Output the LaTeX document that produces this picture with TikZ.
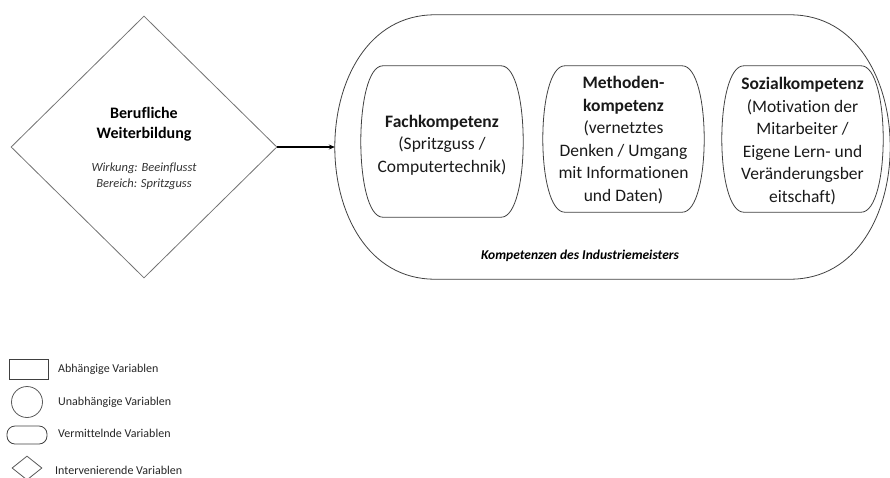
\documentclass[tikz,border=0pt]{standalone}
\usepackage{fontspec}
\setmainfont{Carlito}[Ligatures=NoCommon]
\usetikzlibrary{shapes.geometric,arrows.meta,calc}

\tikzset{
  frame/.style={draw=none, inner sep=0pt, minimum width=#1},
  outline/.style={draw=black!75, line width=0.8pt},
  dia/.style={diamond, draw=black!55, line width=0.8pt, inner sep=0pt, aspect=1},
  boxtext/.style={align=center, font=\fontsize{17.5}{22.5}\selectfont, text=black!90, inner sep=0pt},
  legtext/.style={anchor=west, font=\fontsize{12}{13}\selectfont, text=black!85, inner sep=0pt},
  flow/.style={line width=1.4pt, -{Stealth[length=6pt,width=5pt]}},
  % bulged outline around a frame node: #1 = straight part inset
  bulge/.style args={#1 on #2}{insert path={
    ([xshift=#1]#2.north west) -- ([xshift=-#1]#2.north east)
    .. controls ([xshift=#1/3]#2.north east) and ([xshift=#1/3]#2.south east) ..
    ([xshift=-#1]#2.south east) -- ([xshift=#1]#2.south west)
    .. controls ([xshift=-#1/3]#2.south west) and ([xshift=-#1/3]#2.north west) ..
    cycle}}
}

\begin{document}
\begin{tikzpicture}[x=1pt, y=-1pt]
\useasboundingbox (0,0) rectangle (890,477);

% influencing variable
\node[dia, minimum width=266pt, minimum height=262pt] (wb) at (144,147) {};
\node[align=center, inner sep=0pt, font=\fontsize{16}{20}\selectfont\bfseries] (wbtitle) at (144,124) {Berufliche\\Weiterbildung};
\node[align=center, inner sep=0pt, font=\fontsize{12.5}{16.5}\selectfont\itshape, text=black!80] (wbinfo) at (144,176) {Wirkung: Beeinflusst\\Bereich: Spritzguss};

% competences of the master craftsman
\node[frame=555pt, minimum height=264pt] (outer) at (612.5,147) {};
\draw[outline, bulge=100pt on outer];
\node[inner sep=0pt, font=\fontsize{13.5}{15}\selectfont\bfseries\itshape] (outerlabel) at (580,256) {Kompetenzen des Industriemeisters};

\node[frame=162pt, minimum height=151pt] (fach) at (442,141.5) {};
\draw[outline, bulge=22pt on fach];
\node[boxtext] (fachtext) at (442,145) {\textbf{Fachkompetenz}\\(Spritzguss /\\Computertechnik)};

\node[frame=161pt, minimum height=146pt] (meth) at (623.5,139) {};
\draw[outline, bulge=22pt on meth];
\node[boxtext] (methtext) at (623.5,140) {\textbf{Methoden-}\\\textbf{kompetenz}\\(vernetztes\\Denken / Umgang\\mit Informationen\\und Daten)};

\node[frame=161pt, minimum height=146pt] (sozial) at (802.5,139) {};
\draw[outline, bulge=22pt on sozial];
\node[boxtext] (sozialtext) at (802.5,141) {\textbf{Sozialkompetenz}\\(Motivation der\\Mitarbeiter /\\Eigene Lern- und\\Veränderungsber\\eitschaft)};

% influence
\draw[flow] (wb.east) -- (outer.west);

% legend
\node[draw=black!75, line width=0.8pt, minimum width=39pt, minimum height=20pt, inner sep=0pt] (legrect) at (28.5,369) {};
\node[legtext] (legrecttext) at (58,369) {Abhängige Variablen};
\node[circle, draw=black!65, line width=0.8pt, minimum size=31pt, inner sep=0pt] (legcirc) at (27,402) {};
\node[legtext] (legcirctext) at (58,402) {Unabhängige Variablen};
\node[draw=black!75, line width=0.8pt, rounded corners=8pt, minimum width=40pt, minimum height=18pt, inner sep=0pt] (legpill) at (27,435) {};
\node[legtext] (legpilltext) at (58,433) {Vermittelnde Variablen};
\node[dia, draw=black!65, minimum width=30pt, minimum height=24pt] (legdia) at (27,468) {};
\node[legtext] (legdiatext) at (55,470) {Intervenierende Variablen};
\end{tikzpicture}
\end{document}
